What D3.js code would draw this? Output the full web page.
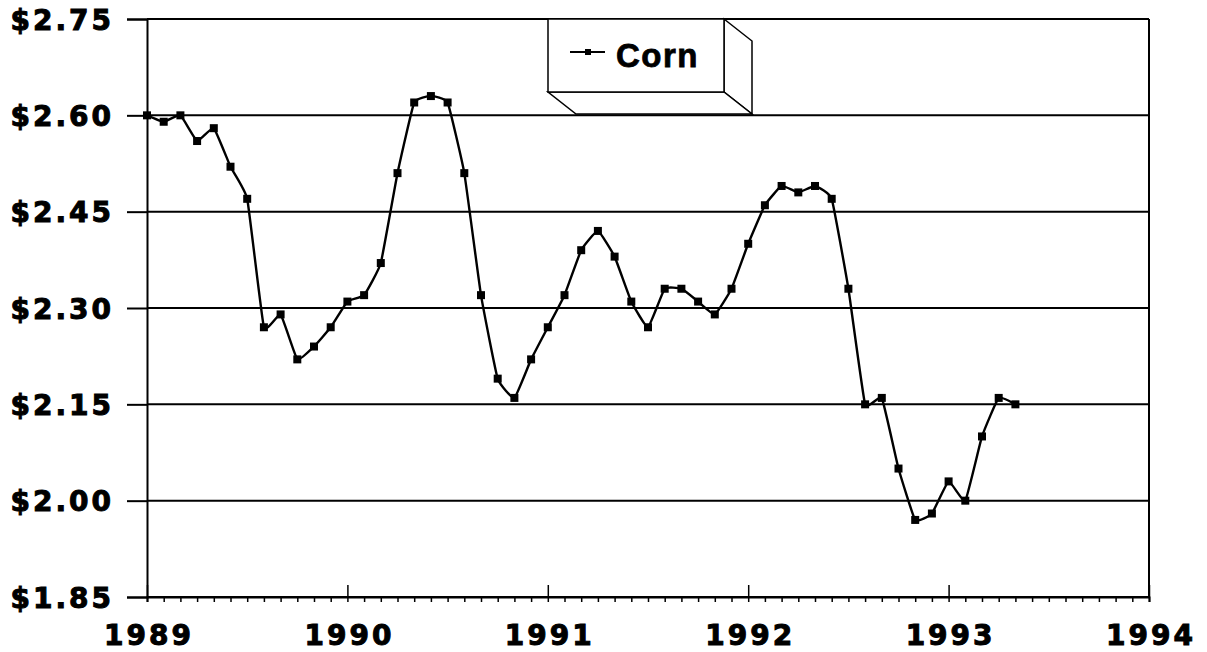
<!DOCTYPE html>
<meta charset="utf-8">
<script src="https://d3js.org/d3.v7.min.js"></script>
<style>
  body { margin: 0; background: #fff; }
  .lbl { font-family: "DejaVu Sans", sans-serif; font-weight: bold; font-size: 28px;
         letter-spacing: 3px; fill: #000; stroke: #000; stroke-width: 1px; }
</style>
<body>
<div id="chart"></div>
<script>

// monthly corn price, starting Jan 1989
var startYear = 1989;
var prices = [
  2.60, 2.59, 2.60, 2.56, 2.58, 2.52, 2.47, 2.27, 2.29, 2.22, 2.24, 2.27,   // 1989
  2.31, 2.32, 2.37, 2.51, 2.62, 2.63, 2.62, 2.51, 2.32, 2.19, 2.16, 2.22,   // 1990
  2.27, 2.32, 2.39, 2.42, 2.38, 2.31, 2.27, 2.33, 2.33, 2.31, 2.29, 2.33,   // 1991
  2.40, 2.46, 2.49, 2.48, 2.49, 2.47, 2.33, 2.15, 2.16, 2.05, 1.97, 1.98,   // 1992
  2.03, 2.00, 2.10, 2.16, 2.15                                              // 1993
];
var yearTicks = [1989, 1990, 1991, 1992, 1993, 1994];
var priceTicks = [1.85, 2.00, 2.15, 2.30, 2.45, 2.60, 2.75];
var seriesName = "Corn";

var margin = {top: 19, right: 58, bottom: 55, left: 147},
    width = 1207 - margin.left - margin.right,
    height = 652 - margin.top - margin.bottom;

var svg = d3.select("#chart")
  .append("svg")
    .attr("width", 1207)
    .attr("height", 652)
  .append("g")
    .attr("transform", "translate(" + margin.left + "," + margin.top + ")");

var x = d3.scaleLinear()
  .domain([1989, 1994])
  .range([0, width]);

var y = d3.scaleLinear()
  .domain([1.85, 2.75])
  .range([height, 0]);

// horizontal grid
svg.append("g")
  .selectAll("line")
  .data(priceTicks)
  .enter()
  .append("line")
    .attr("x1", 0)
    .attr("x2", width)
    .attr("y1", function(d) { return y(d); })
    .attr("y2", function(d) { return y(d); })
    .style("stroke", "#000")
    .style("stroke-width", 2);

// right frame
svg.append("line")
  .attr("x1", width).attr("x2", width)
  .attr("y1", 0).attr("y2", height)
  .style("stroke", "#000")
  .style("stroke-width", 2);

// Y axis
var yAxis = svg.append("g")
  .call(d3.axisLeft(y)
    .tickValues(priceTicks)
    .tickSize(20)
    .tickPadding(13)
    .tickFormat(function(d) { return "$" + d.toFixed(2); }));
yAxis.select(".domain").style("stroke-width", 2);
yAxis.selectAll(".tick line").style("stroke-width", 2);
yAxis.selectAll("text").attr("class", "lbl").attr("dy", "0.36em");

// X axis - monthly minor ticks pointing down
var monthTicks = [];
for (var i = 0; i <= 60; i++) monthTicks.push(1989 + i / 12);
var xMinor = svg.append("g")
  .attr("transform", "translate(0," + height + ")")
  .call(d3.axisBottom(x).tickValues(monthTicks).tickSize(5).tickFormat(""));
xMinor.select(".domain").style("stroke-width", 2);
xMinor.selectAll(".tick line").style("stroke-width", 1.5);

// X axis - year ticks pointing up with labels
var xMajor = svg.append("g")
  .attr("transform", "translate(0," + height + ")")
  .call(d3.axisBottom(x).tickValues(yearTicks).tickSize(-12).tickFormat(d3.format("d")));
xMajor.select(".domain").remove();
xMajor.selectAll(".tick line").style("stroke-width", 1.5);
xMajor.selectAll("text")
  .attr("class", "lbl")
  .attr("y", 48)
  .attr("dy", 0)
  .attr("dx", "1.5px");

// the series
var pts = prices.map(function(p, i) { return {t: startYear + i / 12, v: p}; });

var line = d3.line()
  .x(function(d) { return x(d.t); })
  .y(function(d) { return y(d.v); })
  .curve(d3.curveCardinal.tension(0.65));

svg.append("path")
  .datum(pts)
  .attr("d", line)
  .style("fill", "none")
  .style("stroke", "#000")
  .style("stroke-width", 2.4);

svg.append("g")
  .selectAll("rect")
  .data(pts)
  .enter()
  .append("rect")
    .attr("x", function(d) { return x(d.t) - 4; })
    .attr("y", function(d) { return y(d.v) - 4; })
    .attr("width", 8)
    .attr("height", 8)
    .style("fill", "#000");

// 3d legend box
var lg = d3.select("svg").append("g");
var bx = 548, by = 19, bw = 176, bh = 73, dx = 28, dy = 22;
lg.append("polygon")
  .attr("points", [[bx + bw, by], [bx + bw + dx, by + dy], [bx + bw + dx, by + bh + dy], [bx + bw, by + bh]].join(" "))
  .style("fill", "#fff").style("stroke", "#000").style("stroke-width", 1.5);
lg.append("polygon")
  .attr("points", [[bx, by + bh], [bx + bw, by + bh], [bx + bw + dx, by + bh + dy], [bx + dx, by + bh + dy]].join(" "))
  .style("fill", "#fff").style("stroke", "#000").style("stroke-width", 1.5);
lg.append("rect")
  .attr("x", bx).attr("y", by).attr("width", bw).attr("height", bh)
  .style("fill", "#fff").style("stroke", "#000").style("stroke-width", 1.5);
lg.append("line")
  .attr("x1", 570).attr("x2", 605).attr("y1", 52).attr("y2", 52)
  .style("stroke", "#000").style("stroke-width", 2);
lg.append("rect")
  .attr("x", 585).attr("y", 49).attr("width", 6).attr("height", 6)
  .style("fill", "#000");
lg.append("text")
  .attr("x", 616).attr("y", 67)
  .style("font-family", "'Liberation Sans', Arial, sans-serif")
  .style("font-weight", "bold")
  .style("font-size", "33px")
  .style("letter-spacing", "1.5px")
  .style("stroke", "#000")
  .style("stroke-width", 0.8)
  .text(seriesName);

</script>
</body>
